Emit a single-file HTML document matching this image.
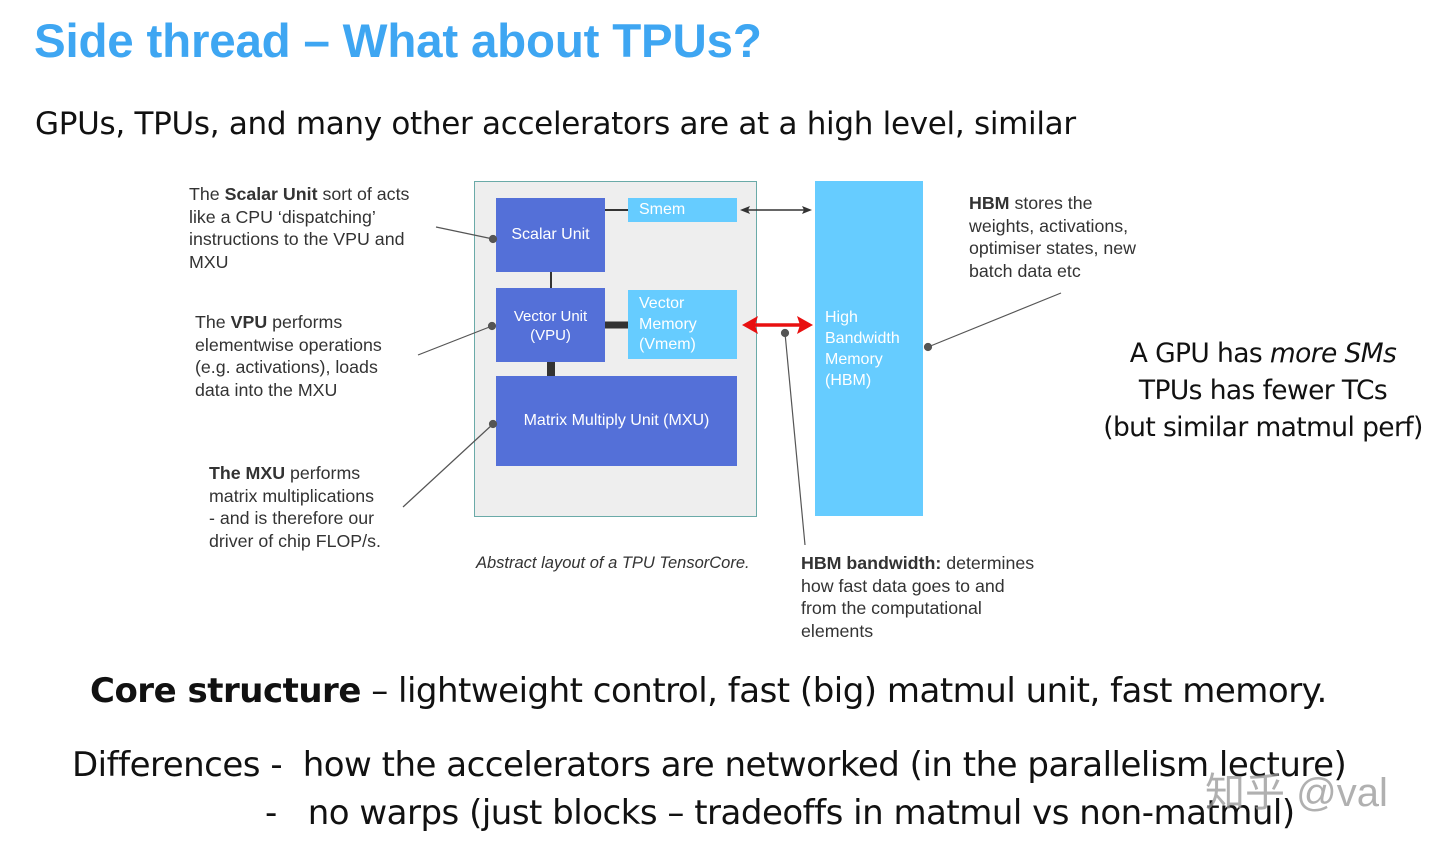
<!DOCTYPE html>
<html><head><meta charset="utf-8"><style>
body{margin:0;width:1440px;height:841px;background:#fff;position:relative;overflow:hidden;font-family:"Liberation Sans",sans-serif}
.a{position:absolute;white-space:nowrap}
.s{font-size:17.8px;line-height:22.5px;color:#333}
.big{font-family:"DejaVu Sans","Liberation Sans",sans-serif;color:#111}
.box{position:absolute;color:#fff;font-size:16px;box-sizing:border-box}
.d{background:#5470d8}.l{background:#66ccff}
</style></head><body>
<div class="a" style="left:34px;top:14px;font-size:47.5px;font-weight:bold;color:#3ea6f2;letter-spacing:-0.2px">Side thread – What about TPUs?</div>
<div class="a big" style="left:35px;top:106px;font-size:31px;letter-spacing:-0.3px">GPUs, TPUs, and many other accelerators are at a high level, similar</div>

<div class="a s" style="left:189px;top:183px">The <b>Scalar Unit</b> sort of acts<br>like a CPU ‘dispatching’<br>instructions to the VPU and<br>MXU</div>
<div class="a s" style="left:195px;top:311px">The <b>VPU</b> performs<br>elementwise operations<br>(e.g. activations), loads<br>data into the MXU</div>
<div class="a s" style="left:209px;top:462px"><b>The MXU</b> performs<br>matrix multiplications<br>- and is therefore our<br>driver of chip FLOP/s.</div>
<div class="a s" style="left:969px;top:192px"><b>HBM</b> stores the<br>weights, activations,<br>optimiser states, new<br>batch data etc</div>
<div class="a s" style="left:801px;top:552px"><b>HBM bandwidth:</b> determines<br>how fast data goes to and<br>from the computational<br>elements</div>
<div class="a s" style="left:476px;top:552px;font-style:italic;font-size:16.5px">Abstract layout of a TPU TensorCore.</div>

<div style="position:absolute;left:474px;top:181px;width:283px;height:336px;background:#eeeeee;border:1.5px solid #6aaaa8;box-sizing:border-box"></div>
<div class="box d" style="left:496px;top:198px;width:109px;height:74px;padding-top:28px;text-align:center">Scalar Unit</div>
<div class="box l" style="left:628px;top:198px;width:109px;height:24px;padding:3px 0 0 11px">Smem</div>
<div class="box d" style="left:496px;top:288px;width:109px;height:74px;padding-top:19px;text-align:center;font-size:15px;line-height:19px">Vector Unit<br>(VPU)</div>
<div class="box l" style="left:628px;top:290px;width:109px;height:69px;padding:4px 0 0 11px;line-height:20.5px">Vector<br>Memory<br>(Vmem)</div>
<div class="box d" style="left:496px;top:376px;width:241px;height:90px;padding-top:36px;text-align:center">Matrix Multiply Unit (MXU)</div>
<div class="box l" style="left:815px;top:181px;width:108px;height:335px;padding:126px 0 0 10px;line-height:21px">High<br>Bandwidth<br>Memory<br>(HBM)</div>

<svg class="a" style="left:0;top:0" width="1440" height="841">
<g stroke="#333">
<line x1="551" y1="272" x2="551" y2="288" stroke-width="2"/>
<line x1="605" y1="210" x2="628" y2="210" stroke-width="2"/>
<line x1="605" y1="325" x2="628" y2="325" stroke-width="7"/>
<line x1="551" y1="362" x2="551" y2="376" stroke-width="8"/>
<line x1="744" y1="210" x2="808" y2="210" stroke-width="1.5"/>
</g>
<polygon points="740,210 750,206 748,210 750,214" fill="#333"/>
<polygon points="812,210 802,206 804,210 802,214" fill="#333"/>
<line x1="752" y1="325" x2="802" y2="325" stroke="#e81010" stroke-width="3.5"/>
<polygon points="742,325 758,316 755,325 758,334" fill="#e81010"/>
<polygon points="813,325 797,316 800,325 797,334" fill="#e81010"/>
<g stroke="#555" stroke-width="1.2" fill="#555">
<line x1="436" y1="227" x2="493" y2="239"/><circle cx="493" cy="239" r="3.5"/>
<line x1="418" y1="355" x2="492" y2="326"/><circle cx="492" cy="326" r="3.5"/>
<line x1="403" y1="507" x2="493" y2="424"/><circle cx="493" cy="424" r="3.5"/>
<line x1="785" y1="333" x2="805" y2="545"/><circle cx="785" cy="333" r="3.5"/>
<line x1="928" y1="347" x2="1061" y2="293"/><circle cx="928" cy="347" r="3.5"/>
</g>
</svg>

<div class="a big" style="left:1098px;top:335px;width:330px;text-align:center;font-size:26.5px;line-height:37px;letter-spacing:-0.6px">A GPU has <i>more SMs</i><br>TPUs has fewer TCs<br>(but similar matmul perf)</div>
<div class="a big" style="left:90px;top:671px;font-size:34px;letter-spacing:-0.5px"><b>Core structure</b> – lightweight control, fast (big) matmul unit, fast memory.</div>
<div class="a big" style="left:72px;top:745px;font-size:34px;letter-spacing:-0.5px">Differences -&nbsp; how the accelerators are networked (in the parallelism lecture)</div>
<div class="a big" style="left:265px;top:793px;font-size:34px;letter-spacing:-0.5px">-&nbsp;&nbsp; no warps (just blocks – tradeoffs in matmul vs non-matmul)</div>
<div class="a" style="left:1205px;top:760px;font-size:40px;color:rgba(150,150,150,0.75);font-family:'Liberation Sans','Noto Sans CJK SC',sans-serif">知乎 @val</div>
</body></html>
